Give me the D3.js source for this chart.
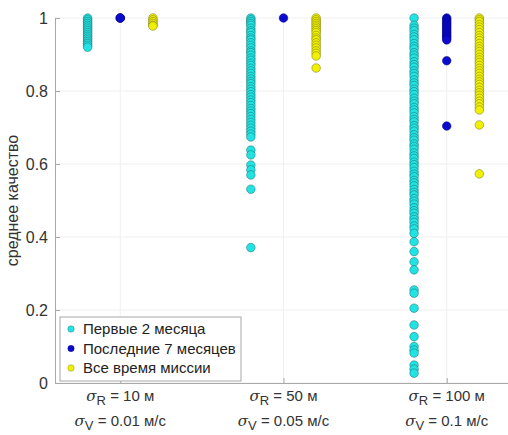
<!DOCTYPE html>
<html>
<head>
<meta charset="utf-8">
<script src="https://cdn.jsdelivr.net/npm/d3@7"></script>
<style>
  body { margin: 0; background: #fff; }
  text { font-family: "Liberation Sans", Arial, sans-serif; }
</style>
</head>
<body>
<div id="chart"></div>
<script>
var groups = [1, 2, 3];
var sigmaR = ['10 м', '50 м', '100 м'];
var sigmaV = ['0.01 м/с', '0.05 м/с', '0.1 м/с'];
var yTicks = [0, 0.2, 0.4, 0.6, 0.8, 1];
var seriesNames = ['Первые 2 месяца', 'Последние 7 месяцев', 'Все время миссии'];

// first 2 months
var first2 = [
  [1, 0.995, 0.99, 0.985, 0.98, 0.975, 0.97, 0.965, 0.96, 0.955, 0.95, 0.945, 0.94, 0.935, 0.93, 0.925, 0.92],
  [1, 0.995, 0.99, 0.985, 0.98, 0.972, 0.965, 0.96, 0.952, 0.945, 0.94, 0.932, 0.925, 0.918, 0.91, 0.905,
   0.898, 0.89, 0.884, 0.876, 0.87, 0.862, 0.855, 0.848, 0.84, 0.833, 0.826, 0.82, 0.812, 0.805, 0.798,
   0.79, 0.783, 0.775, 0.768, 0.76, 0.752, 0.745, 0.738, 0.73, 0.722, 0.714, 0.706, 0.698, 0.69, 0.682,
   0.674, 0.638, 0.625, 0.597, 0.584, 0.57, 0.531, 0.371],
  [1, 0.98, 0.972, 0.965, 0.955, 0.948, 0.94, 0.93, 0.922, 0.915, 0.905, 0.898, 0.89, 0.88, 0.872, 0.865,
   0.855, 0.848, 0.84, 0.83, 0.822, 0.815, 0.805, 0.798, 0.79, 0.78, 0.772, 0.765, 0.755, 0.748, 0.74,
   0.73, 0.722, 0.715, 0.705, 0.698, 0.69, 0.68, 0.672, 0.665, 0.655, 0.648, 0.64, 0.63, 0.622, 0.615,
   0.605, 0.598, 0.59, 0.58, 0.572, 0.565, 0.555, 0.548, 0.54, 0.53, 0.522, 0.515, 0.505, 0.498, 0.49,
   0.48, 0.472, 0.465, 0.455, 0.448, 0.44, 0.43, 0.422, 0.41, 0.387, 0.36, 0.332, 0.31, 0.255, 0.246,
   0.205, 0.159, 0.127, 0.1, 0.09, 0.082, 0.049, 0.038, 0.027]
];
// last 7 months
var last7 = [
  [1, 1, 1],
  [1],
  [1, 0.995, 0.99, 0.985, 0.98, 0.975, 0.97, 0.965, 0.96, 0.955, 0.95, 0.945, 0.94, 0.883, 0.704]
];
// whole mission
var allTime = [
  [1, 0.995, 0.99, 0.985, 0.98, 0.978],
  [1, 0.995, 0.99, 0.985, 0.98, 0.975, 0.97, 0.965, 0.96, 0.952, 0.945, 0.94, 0.932, 0.925, 0.918, 0.91,
   0.903, 0.896, 0.863],
  [1, 0.995, 0.99, 0.982, 0.975, 0.968, 0.96, 0.952, 0.945, 0.938, 0.93, 0.922, 0.915, 0.908, 0.9, 0.892,
   0.885, 0.878, 0.87, 0.862, 0.855, 0.848, 0.84, 0.832, 0.825, 0.818, 0.81, 0.802, 0.795, 0.788, 0.78,
   0.772, 0.765, 0.756, 0.748, 0.707, 0.573]
];

var series = [
  {name: seriesNames[0], values: first2, offset: -0.2, fill: '#22e3e3', stroke: 'rgba(20,90,90,0.55)'},
  {name: seriesNames[1], values: last7, offset: 0, fill: '#0b0bd0', stroke: 'rgba(0,0,110,0.6)'},
  {name: seriesNames[2], values: allTime, offset: 0.2, fill: '#f0f000', stroke: 'rgba(110,110,30,0.6)'}
];

var width = 508, height = 435;
var margin = {left: 55, top: 18, bottom: 52};

var x = d3.scaleLinear().domain([0.6, 3.4]).range([margin.left, 512]);
var y = d3.scaleLinear().domain([0, 1]).range([height - margin.bottom, margin.top]);

var svg = d3.select('#chart').append('svg')
            .attr('width', width)
            .attr('height', height);

// grid
svg.append('g')
   .selectAll('line')
   .data(yTicks).enter()
   .append('line')
     .attr('x1', x(0.6)).attr('x2', x(3.4))
     .attr('y1', function(d) { return y(d); })
     .attr('y2', function(d) { return y(d); })
     .attr('stroke', '#efefef');

svg.append('g')
   .selectAll('line')
   .data(groups).enter()
   .append('line')
     .attr('x1', function(d) { return x(d); })
     .attr('x2', function(d) { return x(d); })
     .attr('y1', y(0)).attr('y2', y(1))
     .attr('stroke', '#efefef');

// axes
var yAxis = svg.append('g')
               .attr('transform', 'translate(' + margin.left + ',0)')
               .call(d3.axisLeft(y).tickValues(yTicks).tickSize(-5).tickPadding(7)
                       .tickFormat(function(d) { return d === 0 || d === 1 ? d : d.toFixed(1); }));
yAxis.select('.domain').attr('stroke', '#a8a8a8');
yAxis.selectAll('.tick line').attr('stroke', '#a8a8a8');
yAxis.selectAll('.tick text').attr('fill', '#333').style('font-size', '16px')
     .style('font-family', '"Liberation Sans", Arial, sans-serif');

var xAxis = svg.append('g')
               .attr('transform', 'translate(0,' + y(0) + ')')
               .call(d3.axisBottom(x).tickValues(groups).tickSize(-5).tickFormat(''));
xAxis.select('.domain').attr('stroke', '#a8a8a8');
xAxis.selectAll('.tick line').attr('stroke', '#a8a8a8');

// two-line tick labels
var labels = svg.append('g').selectAll('g')
                .data(groups).enter()
                .append('g')
                  .attr('transform', function(d) { return 'translate(' + x(d) + ',0)'; });

function sigmaLabel(sel, yPos, sub, getVal) {
  var t = sel.append('text')
             .attr('y', yPos)
             .attr('text-anchor', 'middle')
             .attr('fill', '#333')
             .style('font-size', '15px');
  t.append('tspan').style('font-family', '"DejaVu Serif", "Liberation Serif", serif')
   .style('font-style', 'italic').text('σ');
  t.append('tspan').attr('dy', 4).style('font-size', '13px').text(sub);
  t.append('tspan').attr('dy', -4).text(function(d, i) { return ' = ' + getVal(i); });
}
sigmaLabel(labels, 401, 'R', function(i) { return sigmaR[i]; });
sigmaLabel(labels, 426, 'V', function(i) { return sigmaV[i]; });

// y label
svg.append('text')
   .attr('transform', 'translate(18,' + y(0.5) + ') rotate(-90)')
   .attr('text-anchor', 'middle')
   .attr('fill', '#333')
   .style('font-size', '16px')
   .text('среднее качество');

// points
series.forEach(function(s) {
  var pts = [];
  s.values.forEach(function(vals, gi) {
    vals.forEach(function(v) { pts.push({g: groups[gi], v: v}); });
  });
  svg.append('g')
     .selectAll('circle')
     .data(pts).enter()
     .append('circle')
       .attr('cx', function(d) { return x(d.g + s.offset); })
       .attr('cy', function(d) { return y(d.v); })
       .attr('r', 4.3)
       .attr('fill', s.fill)
       .attr('stroke', s.stroke)
       .attr('stroke-width', 0.8);
});

// legend
var legend = svg.append('g').attr('transform', 'translate(60,317)');
legend.append('rect')
      .attr('width', 181).attr('height', 64)
      .attr('fill', '#fff').attr('stroke', '#a8a8a8');
var items = legend.selectAll('g.item')
                  .data(series).enter()
                  .append('g')
                    .attr('class', 'item')
                    .attr('transform', function(d, i) { return 'translate(0,' + (12 + i * 19.5) + ')'; });
items.append('circle')
     .attr('cx', 11).attr('r', 3.2)
     .attr('fill', function(d) { return d.fill; })
     .attr('stroke', function(d) { return d.stroke; })
     .attr('stroke-width', 0.6);
items.append('text')
     .attr('x', 23).attr('dy', '0.35em')
     .attr('fill', '#222')
     .style('font-size', '15px')
     .text(function(d) { return d.name; });
</script>
</body>
</html>
